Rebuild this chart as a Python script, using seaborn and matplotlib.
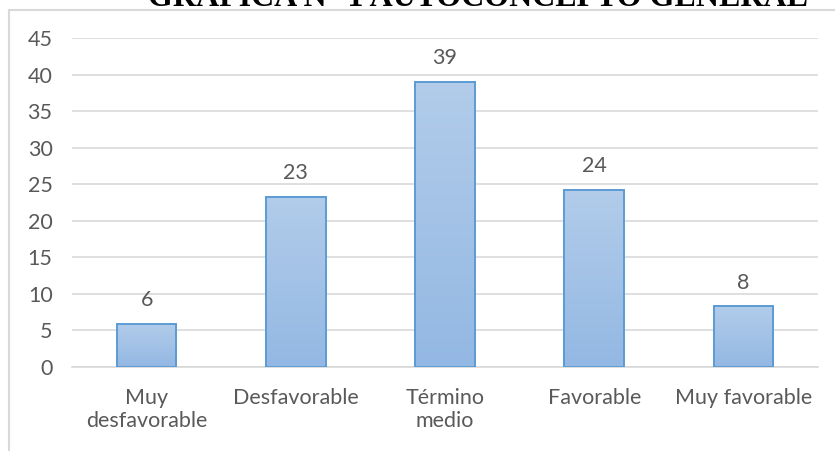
import numpy as np
import pandas as pd
import matplotlib
matplotlib.use("Agg")
import matplotlib.pyplot as plt
import seaborn as sns
from matplotlib.colors import LinearSegmentedColormap
from matplotlib.patches import Rectangle

# Datos
categorias = ["Muy\ndesfavorable", "Desfavorable", "Término\nmedio", "Favorable", "Muy favorable"]
valores = [5.9, 23.3, 39.0, 24.2, 8.3]
ticks_y = [0, 5, 10, 15, 20, 25, 30, 35, 40, 45]
titulo = "GRÁFICA N° 1 AUTOCONCEPTO GENERAL"

sns.set_theme(style="white")
plt.rcParams["font.family"] = ["Lato", "DejaVu Sans"]

gris_texto = "#595959"
gris_linea = "#D9D9D9"
borde_barra = "#5B9BD5"

fig = plt.figure(figsize=(8.35, 4.51), dpi=100)
ax = fig.add_axes([72 / 835, 1 - 367 / 451, (818 - 72) / 835, (367 - 38) / 451])

df = pd.DataFrame({"categoria": categorias, "valor": valores})
sns.barplot(data=df, x="categoria", y="valor", ax=ax, color="#A6C4E8",
            width=0.4, edgecolor=borde_barra, linewidth=1.4, saturation=1)

# Relleno en degradado dentro de cada barra
cmap = LinearSegmentedColormap.from_list("azul", ["#93B8E3", "#B2CCEA"])
grad = np.linspace(0, 1, 256).reshape(-1, 1)
for p in ax.patches:
    x0, y0 = p.get_x(), p.get_y()
    w, h = p.get_width(), p.get_height()
    im = ax.imshow(grad, cmap=cmap, origin="lower", aspect="auto",
                   extent=(x0, x0 + w, y0, y0 + h), zorder=p.get_zorder() - 0.1)
    im.set_clip_path(p)
    p.set_facecolor("none")
    p.set_zorder(3)

# Etiquetas de valor
for p, v in zip(ax.patches, valores):
    ax.annotate(f"{v:.0f}", (p.get_x() + p.get_width() / 2, p.get_height()),
                xytext=(0, 17), textcoords="offset points", ha="center", va="center",
                fontsize=15.5, color=gris_texto)

ax.set_xlim(-0.5, len(categorias) - 0.5)
ax.set_ylim(0, 45)
ax.set_yticks(ticks_y)
ax.yaxis.grid(True, color=gris_linea, linewidth=1.2)
ax.set_axisbelow(True)
for s in ["top", "right", "left"]:
    ax.spines[s].set_visible(False)
ax.spines["bottom"].set_color(gris_linea)
ax.spines["bottom"].set_linewidth(1.2)
ax.set_xlabel("")
ax.set_ylabel("")
ax.tick_params(axis="y", length=0, pad=14, labelsize=15.5, labelcolor=gris_texto)
ax.tick_params(axis="x", length=0, pad=15, labelsize=15.5, labelcolor=gris_texto)
for t in ax.get_xticklabels():
    t.set_linespacing(1.2)

# Marco del área del gráfico
fig.patches.append(Rectangle((9 / 835, -0.1), 1.2, 1 - 9.5 / 451 + 0.1,
                             transform=fig.transFigure, fill=False,
                             edgecolor=gris_linea, linewidth=1.5))

# Título
fig.text(478 / 835, 1 - 6 / 451, titulo, ha="center", va="baseline",
         fontsize=23, fontweight="bold", family=["Liberation Serif", "DejaVu Serif"],
         color="black")

fig.savefig("out.png", dpi=100)
